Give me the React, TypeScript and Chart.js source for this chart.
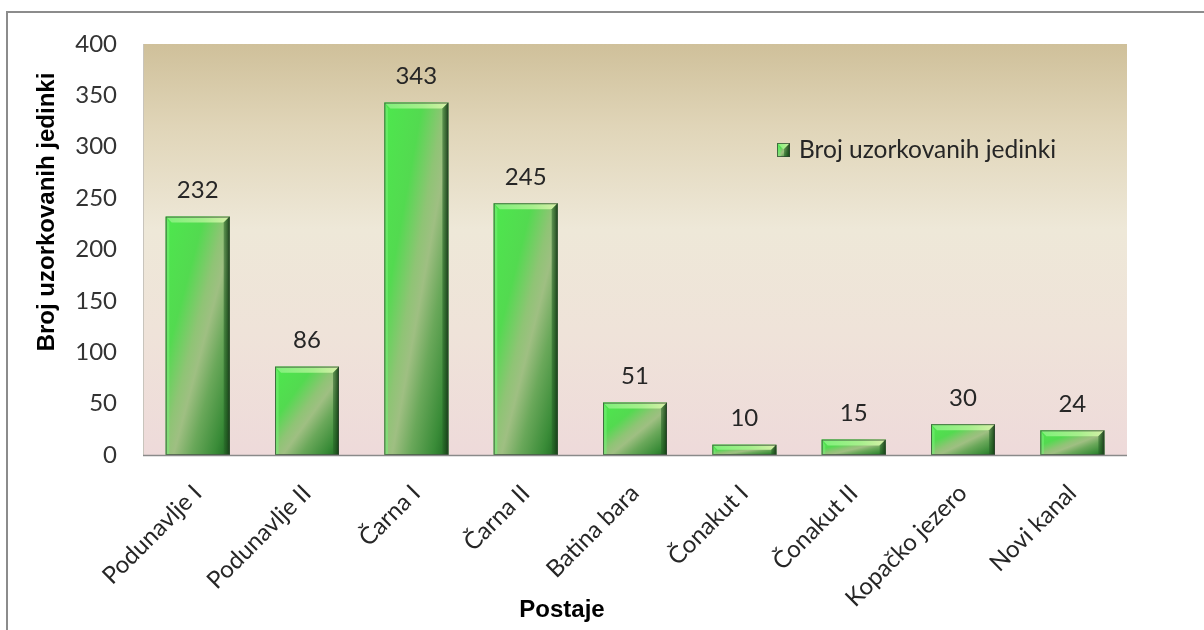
import React, { useEffect, useRef } from "react";
import { Chart, registerables } from "chart.js";

Chart.register(...registerables);

const categories = [
  "Podunavlje I",
  "Podunavlje II",
  "Čarna I",
  "Čarna II",
  "Batina bara",
  "Čonakut I",
  "Čonakut II",
  "Kopačko jezero",
  "Novi kanal",
];
const seriesLabel = "Broj uzorkovanih jedinki";
const values = [232, 86, 343, 245, 51, 10, 15, 30, 24];
const yTitle = "Broj uzorkovanih jedinki";
const xTitle = "Postaje";
const yMax = 400;
const yStep = 50;

const W = 1204;
const H = 630;
const FONT = "Lato, 'Open Sans', sans-serif";
const TITLE_FONT = "'Liberation Sans', Arial, sans-serif";

function paintBar(ctx: CanvasRenderingContext2D, x0: number, y0: number, x1: number, y1: number) {
  const w = x1 - x0;
  const h = y1 - y0;
  if (w <= 0 || h <= 0) return;
  ctx.save();
  ctx.translate(x0, y0);
  ctx.scale(w, h);
  const g = ctx.createLinearGradient(0, 0, 1, 1);
  g.addColorStop(0, "#4de84d");
  g.addColorStop(0.3, "#53da50");
  g.addColorStop(0.47, "#8fc475");
  g.addColorStop(0.56, "#9fbf82");
  g.addColorStop(0.7, "#6aa85a");
  g.addColorStop(0.88, "#3a8c38");
  g.addColorStop(1, "#1f6a23");
  ctx.fillStyle = g;
  ctx.fillRect(0, 0, 1, 1);
  ctx.restore();

  const b = Math.min(6, h / 2, w / 2);
  ctx.save();
  const tg = ctx.createLinearGradient(x0, y0, x1, y0);
  tg.addColorStop(0, "#7ff07a");
  tg.addColorStop(0.6, "#a6ef8c");
  tg.addColorStop(1, "#d6f0a8");
  ctx.fillStyle = tg;
  ctx.beginPath();
  ctx.moveTo(x0, y0);
  ctx.lineTo(x1, y0);
  ctx.lineTo(x1 - b, y0 + b);
  ctx.lineTo(x0 + b, y0 + b);
  ctx.closePath();
  ctx.fill();
  ctx.fillStyle = "rgba(120,240,120,0.55)";
  ctx.beginPath();
  ctx.moveTo(x0, y0);
  ctx.lineTo(x0 + b * 0.6, y0 + b);
  ctx.lineTo(x0 + b * 0.6, y1);
  ctx.lineTo(x0, y1);
  ctx.closePath();
  ctx.fill();
  const rg = ctx.createLinearGradient(x1 - b, 0, x1, 0);
  rg.addColorStop(0, "rgba(40,100,40,0.5)");
  rg.addColorStop(1, "rgba(20,60,20,0.95)");
  ctx.fillStyle = rg;
  ctx.beginPath();
  ctx.moveTo(x1, y0);
  ctx.lineTo(x1, y1);
  ctx.lineTo(x1 - b, y1);
  ctx.lineTo(x1 - b, y0 + b);
  ctx.closePath();
  ctx.fill();
  ctx.strokeStyle = "rgba(50,70,50,0.75)";
  ctx.lineWidth = 1;
  ctx.strokeRect(x0 + 0.5, y0 + 0.5, w - 1, h - 1);
  ctx.restore();
}

const decorPlugin = {
  id: "decor",
  beforeDraw(chart: any) {
    const { ctx, chartArea } = chart;
    const { left, right, top, bottom } = chartArea;
    ctx.save();
    ctx.fillStyle = "#ffffff";
    ctx.fillRect(0, 0, W, H);
    ctx.strokeStyle = "#8c8c8c";
    ctx.lineWidth = 2;
    ctx.strokeRect(7, 12, W + 20, H + 20);
    const g = ctx.createLinearGradient(0, top, 0, bottom);
    g.addColorStop(0, "#cfc09a");
    g.addColorStop(0.2, "#e0d5b8");
    g.addColorStop(0.45, "#eee8d8");
    g.addColorStop(0.7, "#efe3d9");
    g.addColorStop(1, "#eedada");
    ctx.fillStyle = g;
    ctx.fillRect(left, top, right - left, bottom - top);
    ctx.strokeStyle = "#c8c4bc";
    ctx.lineWidth = 1;
    ctx.beginPath();
    ctx.moveTo(left + 0.5, top);
    ctx.lineTo(left + 0.5, bottom);
    ctx.stroke();
    ctx.restore();
  },
  afterDatasetsDraw(chart: any) {
    const { ctx, chartArea } = chart;
    const meta = chart.getDatasetMeta(0);
    ctx.save();
    meta.data.forEach((el: any, i: number) => {
      const half = el.width / 2;
      paintBar(ctx, el.x - half, el.y, el.x + half, el.base);
      ctx.fillStyle = "#262626";
      ctx.font = `24px ${FONT}`;
      ctx.textAlign = "center";
      ctx.textBaseline = "middle";
      ctx.fillText(String(chart.data.datasets[0].data[i]), el.x, el.y - 26);
    });
    ctx.strokeStyle = "#8a8a8a";
    ctx.lineWidth = 1.5;
    ctx.beginPath();
    ctx.moveTo(chartArea.left, chartArea.bottom + 0.5);
    ctx.lineTo(chartArea.right, chartArea.bottom + 0.5);
    ctx.stroke();

    // legend
    paintBar(ctx, 777, 143, 790, 157);
    ctx.fillStyle = "#262626";
    ctx.font = `24.5px ${FONT}`;
    ctx.textAlign = "left";
    ctx.textBaseline = "middle";
    ctx.fillText(chart.data.datasets[0].label, 799, 150);

    // axis titles
    ctx.fillStyle = "#000000";
    ctx.font = `bold 24px ${TITLE_FONT}`;
    ctx.textAlign = "center";
    ctx.textBaseline = "middle";
    ctx.fillText(xTitle, 562, 610);
    ctx.translate(47, 212);
    ctx.rotate(-Math.PI / 2);
    ctx.fillText(yTitle, 0, 0);
    ctx.restore();
  },
};

export default function App() {
  const ref = useRef<HTMLCanvasElement | null>(null);
  useEffect(() => {
    if (!ref.current) return;
    const chart = new Chart(ref.current, {
      type: "bar",
      data: {
        labels: categories,
        datasets: [
          {
            label: seriesLabel,
            data: values,
            backgroundColor: "#4cc04c",
            borderWidth: 0,
            barPercentage: 0.585,
            categoryPercentage: 1,
          },
        ],
      },
      options: {
        responsive: false,
        animation: false,
        devicePixelRatio: 1,
        layout: { padding: { left: 0, right: 77, top: 44, bottom: 0 } },
        plugins: {
          legend: { display: false },
          tooltip: { enabled: false },
        },
        scales: {
          x: {
            grid: { display: false, drawTicks: false },
            border: { display: false },
            ticks: {
              color: "#262626",
              font: { family: FONT, size: 24 },
              minRotation: 45,
              maxRotation: 45,
              padding: 24,
              autoSkip: false,
            },
            afterFit(scale: any) {
              scale.height = 175;
            },
          },
          y: {
            min: 0,
            max: yMax,
            grid: { display: false, drawTicks: false },
            border: { display: false },
            ticks: {
              stepSize: yStep,
              color: "#333333",
              font: { family: FONT, size: 24 },
              padding: 26,
            },
            afterFit(scale: any) {
              scale.width = 143;
            },
          },
        },
      },
      plugins: [decorPlugin],
    });
    return () => chart.destroy();
  }, []);
  return (
    <div style={{ position: "fixed", left: 0, top: 0, width: W, height: H, overflow: "hidden", background: "#fff" }}>
      <canvas ref={ref} width={W} height={H} style={{ width: W, height: H, display: "block" }} />
    </div>
  );
}
